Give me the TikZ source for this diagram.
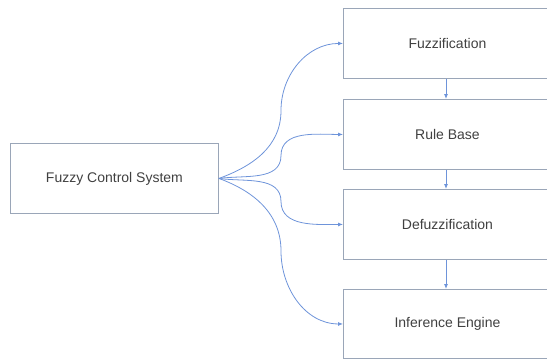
\documentclass[tikz,border=0pt]{standalone}
\usepackage{fontspec}
\setmainfont{Liberation Sans}
\usetikzlibrary{arrows.meta}
\definecolor{boxline}{HTML}{9AA6B8}
\definecolor{linkblue}{HTML}{6E94DA}
\definecolor{labeltext}{HTML}{404040}
\begin{document}
\begin{tikzpicture}[x=1pt,y=-1pt,
  block/.style={draw=boxline,line width=0.9pt,minimum width=208pt,minimum height=70pt,
    inner sep=0pt,font=\fontsize{14}{16}\selectfont,text=labeltext},
  link/.style={draw=linkblue,line width=0.8pt,-{Latex[length=5pt,width=4pt]}}]
  \useasboundingbox (0,0) rectangle (547,360);
  \begin{scope}
    \clip (0,0) rectangle (547,360);
    % source block
    \node[block,anchor=north west] (fcs) at (10,143) {Fuzzy Control System};
    % chain of stages
    \node[block,anchor=north west] (fuzz) at (343,8) {Fuzzification};
    \node[block,anchor=north west] (rule) at (343,99) {Rule Base};
    \node[block,anchor=north west] (defz) at (343,189) {Defuzzification};
    \node[block,anchor=north west,minimum height=69pt] (infe) at (343,289) {Inference Engine};
    % turning points of the curved links
    \coordinate (m1) at (281,110.5);
    \coordinate (m2) at (281,155.5);
    \coordinate (m3) at (281,201.5);
    \coordinate (m4) at (281,251);
    % curved links from the source
    \draw[link] (fcs.east) to[out=20,in=-90] (m1) to[out=90,in=180] (fuzz.west);
    \draw[link] (fcs.east) to[out=8,in=-90] (m2) to[out=90,in=180] (rule.west);
    \draw[link] (fcs.east) to[out=-8,in=90] (m3) to[out=-90,in=180] (defz.west);
    \draw[link] (fcs.east) to[out=-20,in=90] (m4) to[out=-90,in=180] (infe.west);
    % links down the chain
    \draw[link] (fuzz.south -| 446,0) -- (rule.north -| 446,0);
    \draw[link] (rule.south -| 446,0) -- (defz.north -| 446,0);
    \draw[link] (defz.south -| 446,0) -- (infe.north -| 446,0);
  \end{scope}
\end{tikzpicture}
\end{document}
